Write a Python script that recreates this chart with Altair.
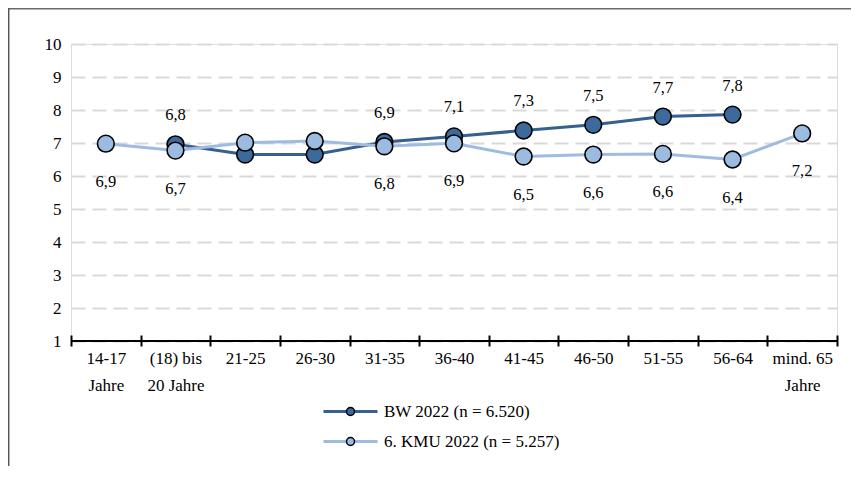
import altair as alt
import pandas as pd

categories = ["14-17|Jahre", "(18) bis|20 Jahre", "21-25", "26-30", "31-35", "36-40",
              "41-45", "46-50", "51-55", "56-64", "mind. 65|Jahre"]
series_names = ["BW 2022 (n = 6.520)", "6. KMU 2022 (n = 5.257)"]
bw_values = [None, 6.96, 6.65, 6.65, 7.03, 7.20, 7.38, 7.55, 7.80, 7.86, None]
bw_labels = ["", "6,8", "", "", "6,9", "7,1", "7,3", "7,5", "7,7", "7,8", ""]
kmu_values = [6.98, 6.77, 7.01, 7.06, 6.90, 6.99, 6.59, 6.65, 6.67, 6.50, 7.29]
kmu_labels = ["6,9", "6,7", "", "", "6,8", "6,9", "6,5", "6,6", "6,6", "6,4", "7,2"]
y_ticks = [1, 2, 3, 4, 5, 6, 7, 8, 9, 10]

line_colors = ["#35608f", "#9fbce0"]
fill_colors = ["#3d6a9d", "#9bbbe0"]
fill_codes = ["a", "b"]

rows = []
for si, (vals, labs) in enumerate([(bw_values, bw_labels), (kmu_values, kmu_labels)]):
    for c, v, l in zip(categories, vals, labs):
        if v is None:
            continue
        rows.append({"cat": c, "val": v, "lab": l, "series": series_names[si],
                     "fcode": fill_codes[si], "order": si})
df = pd.DataFrame(rows)

FONT = "Liberation Serif"
FS = 17
W, H = 766, 297

xaxis = alt.Axis(title=None, labelExpr="split(datum.label, '|')", labelAngle=0,
                 labelFontSize=FS, labelFont=FONT, labelColor="black",
                 labelLineHeight=27, labelPadding=4, tickBand="extent",
                 tickSize=11, tickWidth=2, tickColor="black", domain=False,
                 offset=-6, grid=False, labelOverlap=False, labelFlush=False)
xscale = alt.Scale(type="band", paddingInner=0, paddingOuter=0)
xenc = alt.X("cat:N", sort=categories, scale=xscale, axis=xaxis)
yaxis = alt.Axis(title=None, values=y_ticks, labelFontSize=FS,
                 labelFont=FONT, labelColor="black", labelPadding=10, labelOverlap=False,
                 ticks=False, domain=False, grid=True, gridDash=[14, 7],
                 gridColor="#d9d9d9", gridWidth=2)
yscale = alt.Scale(domain=[1, 10], nice=False, zero=False)
yenc = alt.Y("val:Q", scale=yscale, axis=yaxis)

base = alt.Chart(df)

lines = base.mark_line(strokeWidth=3).encode(
    x=xenc, y=yenc,
    color=alt.Color("series:N", scale=alt.Scale(domain=series_names, range=line_colors),
                    legend=alt.Legend(title=None, orient="none", legendX=271, legendY=359,
                                      symbolType="M-4.154,0H4.154", symbolSize=169,
                                      symbolStrokeWidth=3, labelOffset=25, labelLimit=400,
                                      labelFont=FONT, labelFontSize=FS, labelColor="black",
                                      rowPadding=12, padding=0)),
    detail="series:N",
    order="order:Q",
)

points = base.mark_point(shape="circle", filled=True, size=280, stroke="black",
                         strokeWidth=1.6, opacity=1).encode(
    x=xenc, y=yenc,
    fill=alt.Fill("fcode:N", scale=alt.Scale(domain=fill_codes, range=fill_colors),
                  legend=alt.Legend(title=None, orient="none", legendX=271, legendY=359,
                                    symbolType="circle", symbolSize=64,
                                    symbolStrokeColor="black", symbolStrokeWidth=1.5,
                                    labelOpacity=0, labelFont=FONT, labelFontSize=FS,
                                    rowPadding=12, padding=0)),
    order="order:Q",
)

lab_bw = base.transform_filter("datum.order == 0 && datum.lab != ''").mark_text(
    dy=-29, fontSize=16.5, font=FONT, color="black", baseline="middle").encode(
    x=xenc, y=yenc, text="lab:N")
lab_kmu = base.transform_filter("datum.order == 1 && datum.lab != ''").mark_text(
    dy=38, fontSize=16.5, font=FONT, color="black", baseline="middle").encode(
    x=xenc, y=yenc, text="lab:N")

xline = alt.Chart(pd.DataFrame({"val": [1]})).mark_rule(color="black", strokeWidth=2).encode(
    x=alt.value(0), x2=alt.value(W), y=yenc)

frame_top = alt.Chart(pd.DataFrame({"v": [0]})).mark_rule(color="#6a6a6a", strokeWidth=1.5).encode(
    x=alt.value(-63), x2=alt.value(W + 20), y=alt.value(-35.3))
frame_left = alt.Chart(pd.DataFrame({"v": [0]})).mark_rule(color="#555555", strokeWidth=1.5).encode(
    x=alt.value(-62.3), y=alt.value(-36), y2=alt.value(H + 140))

chart = alt.layer(lines, points, lab_bw, lab_kmu, xline, frame_top, frame_left).resolve_scale(
    color="independent", fill="independent"
).properties(
    width=W, height=H,
    autosize=alt.AutoSizeParams(type="none"),
    padding={"left": 63, "top": 36, "right": 14, "bottom": 125},
).configure_view(strokeWidth=0, stroke="transparent").configure(font=FONT)

chart.save("out.html", embed_options={"renderer": "svg", "actions": False})
